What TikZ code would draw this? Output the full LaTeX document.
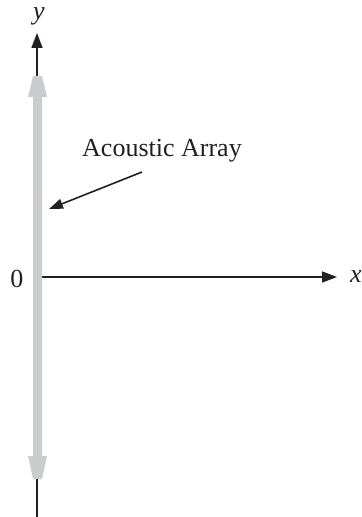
\documentclass[tikz,border=0pt]{standalone}
\usepackage{fontspec}
\setmainfont{Liberation Serif}
\usepackage{xcolor}
\usetikzlibrary{arrows.meta}
\definecolor{arraygray}{RGB}{203,204,206}
\definecolor{inkblack}{RGB}{35,31,32}

\begin{document}
\begin{tikzpicture}[
    x=0.5pt, y=-0.5pt,
    >={Triangle[length=7.5pt, width=5.5pt]},
    axis/.style={->, line width=0.75pt, inkblack},
    ptr/.style={->, line width=0.8pt, inkblack,
        >={Triangle[length=7pt, width=5pt]}},
    lbl/.style={font=\fontsize{13}{15}\selectfont, text=inkblack,
        inner sep=0pt, anchor=base},
]
\useasboundingbox (0,0) rectangle (361,517);

% ── Axes ──
\coordinate (ybot)   at (37,517);
\coordinate (ytop)   at (37,33);
\coordinate (xstart) at (42,277);
\coordinate (xend)   at (337,277);

\draw[axis] (ybot) -- (ytop);
\draw[axis] (xstart) -- (xend);

\node[lbl] (ylbl)   at (39,20)  {\textit{y}};
\node[lbl] (xlbl)   at (356,283) {\textit{x}};
\node[lbl] (origin) at (17,287) {0};

% ── Acoustic array (grey double arrow) ──
\fill[arraygray]
    (33,76) -- (42,76) -- (47,97) -- (42,97) -- (42,456) -- (47,456)
    -- (42,479) -- (33,479) -- (28,456) -- (33,456) -- (33,97)
    -- (28,97) -- cycle;

% ── Label and pointer ──
\node[lbl] (arraylbl) at (162,157) {Acoustic Array};
\coordinate (ptrstart) at (142,172);
\coordinate (ptrtip)   at (49,209);
\draw[ptr] (ptrstart) -- (ptrtip);

\end{tikzpicture}
\end{document}
